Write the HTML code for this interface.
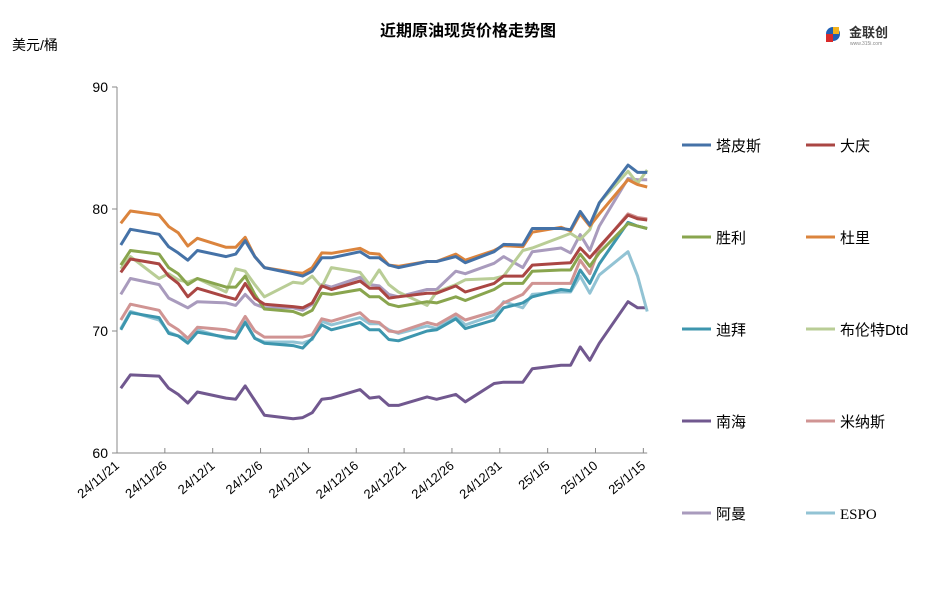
<!DOCTYPE html>
<html><head><meta charset="utf-8">
<style>
body{margin:0;background:#fff;width:937px;height:601px;overflow:hidden;font-family:"Liberation Sans","Noto Sans CJK SC",sans-serif}
svg text{font-family:"Liberation Sans","Noto Sans CJK SC",sans-serif}
</style></head>
<body>
<svg id="chart" width="937" height="601">
<text x="468" y="36" text-anchor="middle" font-size="16" font-weight="bold" fill="#000">近期原油现货价格走势图</text>
<text x="12" y="50" font-size="14" fill="#000">美元/桶</text>
<g>
<circle cx="833" cy="34" r="7" fill="#1f5fb4"/><rect x="826" y="34" width="7" height="8" fill="#d92a2a"/><rect x="833" y="27" width="6" height="7" fill="#f2b21c"/>
<text x="849" y="37" font-size="13" font-weight="bold" fill="#333">金联创</text>
<text x="850" y="45" font-size="5" fill="#888">www.315i.com</text>
</g>
<g id="axes"></g><g id="plot"></g><g id="legend"></g>
</svg>
<script>
const days=[0,1,4,5,6,7,8,11,12,13,14,15,18,19,20,21,22,25,26,27,28,29,32,33,35,36,39,40,42,43,46,47,48,49,50,53,54,55];
const tickLabels=["24/11/21","24/11/26","24/12/1","24/12/6","24/12/11","24/12/16","24/12/21","24/12/26","24/12/31","25/1/5","25/1/10","25/1/15"];
const yTicks=[60,70,80,90];
const names=["塔皮斯","大庆","胜利","杜里","迪拜","布伦特Dtd","南海","米纳斯","阿曼","ESPO"];
const tapis=[77.05,78.34,77.93,76.9,76.4,75.8,76.6,76.1,76.3,77.4,76.1,75.2,74.7,74.5,74.9,76.0,76.0,76.5,76.0,76.0,75.4,75.2,75.7,75.7,76.1,75.6,76.5,77.1,77.05,78.4,78.4,78.3,79.8,78.7,80.5,83.6,83.0,83.0];
const daqing=[74.8,75.9,75.5,74.5,73.9,72.8,73.5,72.8,72.6,73.9,72.7,72.2,72.0,71.9,72.3,73.7,73.4,74.1,73.5,73.5,72.7,72.8,73.1,73.1,73.7,73.2,73.9,74.5,74.5,75.4,75.55,75.6,76.8,76.0,76.9,79.5,79.2,79.1];
const shengli=[75.4,76.6,76.3,75.2,74.7,73.8,74.3,73.6,73.6,74.5,73.0,71.8,71.6,71.3,71.7,73.1,73.0,73.4,72.8,72.8,72.2,72.0,72.4,72.3,72.8,72.5,73.4,73.9,73.9,74.9,75.0,75.0,76.3,75.3,76.4,78.8,78.6,78.4];
const duri=[78.83,79.84,79.51,78.56,78.06,76.97,77.6,76.86,76.86,77.68,76.1,75.2,74.8,74.73,75.2,76.4,76.37,76.78,76.37,76.3,75.4,75.3,75.7,75.7,76.3,75.8,76.6,77.0,76.9,78.1,78.5,78.2,79.6,78.6,79.6,82.4,82.0,81.8];
const dubai=[70.1,71.5,71.1,69.8,69.6,69.0,69.9,69.5,69.4,70.7,69.4,69.0,68.8,68.6,69.4,70.5,70.1,70.7,70.1,70.1,69.3,69.2,70.0,70.1,71.0,70.2,70.9,71.9,72.3,72.8,73.4,73.3,75.0,73.9,75.5,78.9,78.6,78.4];
const brent=[75.1,76.1,74.3,74.7,74.2,74.0,74.3,73.2,75.1,74.9,73.8,72.8,74.0,73.9,74.5,73.6,75.2,74.8,73.8,75.0,73.8,73.2,72.1,73.2,73.8,74.2,74.3,74.5,76.6,76.8,77.7,78.0,77.5,78.3,80.5,83.1,82.1,83.2];
const nanhai=[65.3,66.4,66.3,65.3,64.8,64.1,65.0,64.5,64.4,65.5,64.3,63.1,62.8,62.9,63.3,64.4,64.5,65.2,64.5,64.6,63.9,63.9,64.6,64.4,64.8,64.2,65.7,65.8,65.8,66.9,67.2,67.2,68.7,67.6,69.0,72.4,71.9,71.9];
const minas=[70.9,72.2,71.7,70.6,70.1,69.4,70.3,70.1,69.9,71.2,70.0,69.5,69.5,69.5,69.7,71.0,70.8,71.5,70.8,70.7,70.0,69.9,70.7,70.5,71.4,70.9,71.6,72.3,73.0,73.9,73.9,73.9,75.8,74.7,76.8,79.6,79.3,79.2];
const oman=[73.0,74.3,73.8,72.7,72.3,71.9,72.4,72.3,72.1,73.0,72.2,71.9,71.9,71.7,72.2,73.8,73.6,74.4,73.8,73.7,73.0,72.8,73.4,73.4,74.9,74.7,75.55,76.1,75.2,76.5,76.8,76.4,77.9,76.6,78.6,82.5,82.4,82.4];
const espo=[70.2,71.6,70.9,69.9,69.6,69.3,70.1,69.4,69.4,70.8,69.4,69.1,69.1,69.0,69.3,70.8,70.5,71.1,70.6,70.6,70.1,69.8,70.4,70.2,71.2,70.5,71.3,72.4,71.9,73.0,73.2,73.2,74.5,73.1,74.6,76.5,74.5,71.6];
const seriesList=[tapis,daqing,shengli,duri,dubai,brent,nanhai,minas,oman,espo];
const colors=["#4572a7","#aa4643","#89a54e","#db843d","#3d96ae","#b9cd96","#71588f","#d09493","#a99bbd","#92c3d4"];
const legendColors=["#4572a7","#aa4643","#89a54e","#db843d","#3d96ae","#b9cd96","#71588f","#d09493","#a99bbd","#92c3d4"];
const X0=117,PXD=9.57,Y0=453,PXU=12.2;
function xs(d){return X0+(d+0.4)*PXD;}
function ys(v){return Y0-(v-60)*PXU;}
const NS="http://www.w3.org/2000/svg";
function mk(tag,attrs,parent){const e=document.createElementNS(NS,tag);for(const k in attrs)e.setAttribute(k,attrs[k]);parent.appendChild(e);return e;}
const axes=document.getElementById('axes');
let a=mk('line',{x1:X0,y1:ys(90),x2:X0,y2:Y0,stroke:'#888','stroke-width':1},axes);


a=mk('line',{x1:X0,y1:Y0,x2:X0+55.4*PXD,y2:Y0,stroke:'#888','stroke-width':1},axes);


yTicks.forEach(v=>{
 const t=mk('line',{x1:X0-5,y1:ys(v),x2:X0,y2:ys(v),stroke:'#888'},axes);
 
 
 const l=mk('text',{x:X0-9,y:ys(v)+5,'text-anchor':'end','font-size':14,fill:'#000'},axes);
 l.textContent=v;
 
 
});
tickLabels.forEach((s,i)=>{
 const x=X0+i*5*PXD;
 const t=mk('line',{x1:x,y1:Y0,x2:x,y2:Y0-5,stroke:'#888'},axes);
 
 
 const l=mk('text',{x:x+3,y:Y0+14,'text-anchor':'end','font-size':13,fill:'#000',transform:`rotate(-40 ${x+3} ${Y0+14})`},axes);
 l.textContent=s;
 
 
});
const plot=document.getElementById('plot');
const order=[6,9,4,7,8,5,2,1,3,0];
order.forEach(i=>{
 const s=seriesList[i];
 const pts=s.map((v,j)=>xs(days[j]).toFixed(1)+','+ys(v).toFixed(1)).join(' ');
 const p=mk('polyline',{points:pts,fill:'none',stroke:colors[i],'stroke-width':3,'stroke-linejoin':'round'},plot);
 
 
});
const leg=document.getElementById('legend');
names.forEach((n,i)=>{
 const col=i%2,row=Math.floor(i/2);
 const lx=col?806:682, ly=145+row*92;
 const g=mk('g',{},leg);
 
 
 mk('line',{x1:lx,y1:ly,x2:lx+29,y2:ly,stroke:legendColors[i],'stroke-width':3},g);
 const t=mk('text',{x:lx+34,y:ly+6,'font-size':15,fill:'#000'},g);
 if(n==="ESPO") t.setAttribute('style','font-family:"Liberation Serif",serif');
 t.textContent=n;
});
</script>
</body></html>
